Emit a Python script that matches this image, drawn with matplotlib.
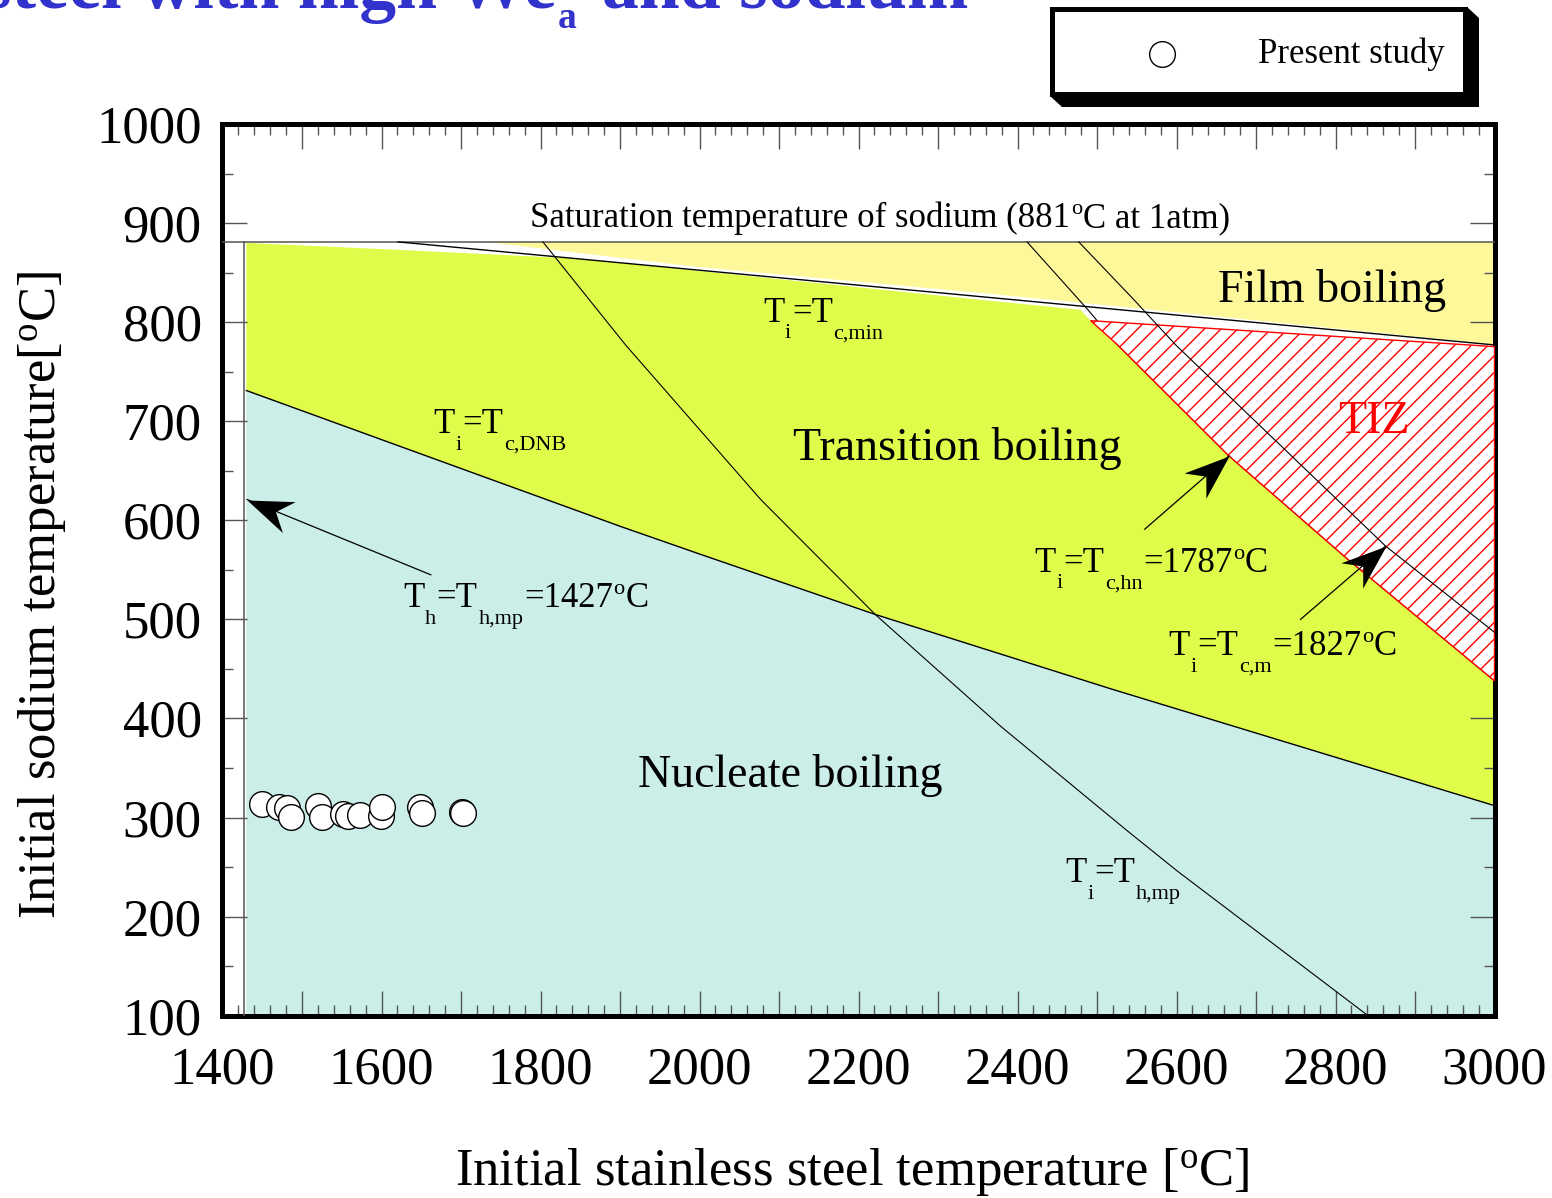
import numpy as np
import matplotlib
matplotlib.use('Agg')
import matplotlib.pyplot as plt
from matplotlib.patches import Polygon
from matplotlib.lines import Line2D
from matplotlib.markers import MarkerStyle
from matplotlib.path import Path
from matplotlib.ticker import MultipleLocator, FuncFormatter
from matplotlib.transforms import offset_copy, Affine2D

plt.rcParams['font.family'] = ['Liberation Serif', 'DejaVu Serif']
plt.rcParams['mathtext.fontset'] = 'custom'
plt.rcParams['mathtext.rm'] = 'Liberation Serif'
plt.rcParams['mathtext.it'] = 'Liberation Serif:italic'
plt.rcParams['mathtext.bf'] = 'Liberation Serif:bold'
plt.rcParams['hatch.linewidth'] = 1.0

# boiling map boundaries: (initial steel temperature, initial sodium temperature) in degC
T_SAT = 881
T_H_MP = 1427
T_C_HN = 1787
T_C_M = 1827

dnb_x = [1430, 1900, 2000, 2221, 2517, 3000]
dnb_y = [731, 594, 566, 505, 430, 312]
cmin_x = [1621, 3000]
cmin_y = [881, 777]
hmp_x = [1803, 1907, 2077, 2221, 2379, 2536, 2601, 2841]
hmp_y = [881, 777, 621, 505, 392, 288, 246, 100]
chn_x = [2412, 2488, 2526, 2666, 2815, 3000]
chn_y = [881, 813, 777, 665, 561, 438]
cm_x = [2477, 2546, 2599, 2863, 3000]
cm_y = [881, 823, 777, 574, 487]

# edges of the shaded regions
film_x = [1730, 2000, 2353, 2525, 3000]
film_y = [881, 855.5, 829.5, 816, 777.5]
trans_top_x = [1430, 1621, 1850, 2353, 2479, 2492]
trans_top_y = [880, 873, 864, 822.6, 812.5, 801.5]
tiz_top_x = [2492, 3000]
tiz_top_y = [801.5, 775.3]

# present study
study_x = [1450, 1471, 1481, 1486, 1520, 1525, 1551, 1558, 1573,
           1599, 1600, 1649, 1651, 1701, 1703]
study_y = [314, 311, 310, 301, 312, 301, 304, 302, 303,
           302, 311, 311, 305, 306, 305]

C_NUC = '#cbeee9'
C_TRANS = '#e0fb4a'
C_FILM = '#fdf99b'
C_TITLE = '#3232cc'

W, H = 1552, 1198
fig = plt.figure(figsize=(W / 100, H / 100), dpi=100)
ax = fig.add_axes([222.5 / W, 1 - 1015.7 / H, 1272 / W, 891.7 / H])
ax.set_xlim(1400, 3000)
ax.set_ylim(100, 1000)


def px(x, y):
    return x / W, 1 - y / H


# regions
nuc = [(1430, 100), (3000, 100)] + list(zip(dnb_x, dnb_y))[::-1]
ax.add_patch(Polygon(nuc, closed=True, facecolor=C_NUC, edgecolor='none', zorder=1))

trans = (list(zip(trans_top_x, trans_top_y)) + list(zip(chn_x[2:], chn_y[2:]))
         + list(zip(dnb_x, dnb_y))[::-1])
ax.add_patch(Polygon(trans, closed=True, facecolor=C_TRANS, edgecolor='none', zorder=1))

film = [(film_x[0], T_SAT), (3000, T_SAT)] + list(zip(film_x, film_y))[::-1]
ax.add_patch(Polygon(film, closed=True, facecolor=C_FILM, edgecolor='none', zorder=1))

# boundary lines
ax.plot([1400, 3000], [T_SAT, T_SAT], color='#555555', lw=1.1, zorder=3)
ax.plot([T_H_MP, T_H_MP], [100, T_SAT], color='#555555', lw=1.1, zorder=3)
ax.plot(dnb_x, dnb_y, color='black', lw=1.0, zorder=3)
ax.plot(cmin_x, cmin_y, color='black', lw=1.0, zorder=3)
ax.plot(hmp_x, hmp_y, color='black', lw=0.8, zorder=3)
ax.plot(chn_x, chn_y, color='black', lw=0.8, zorder=3)

tiz = list(zip(tiz_top_x, tiz_top_y)) + list(zip(chn_x[2:], chn_y[2:]))[::-1]
ax.add_patch(Polygon(tiz, closed=True, facecolor='white', edgecolor='red',
                     hatch='//', lw=1.0, zorder=3.5))
ax.plot(cm_x, cm_y, color='black', lw=0.8, zorder=3.6)

# measured points
ax.plot(study_x, study_y, 'o', ms=18.5, mfc='white', mec='black', mew=1.0,
        ls='none', zorder=6)

# axes styling
for sp in ax.spines.values():
    sp.set_linewidth(3.6)
ax.xaxis.set_major_locator(MultipleLocator(100))
ax.xaxis.set_minor_locator(MultipleLocator(20))
ax.yaxis.set_major_locator(MultipleLocator(100))
ax.yaxis.set_minor_locator(MultipleLocator(50))
ax.xaxis.set_major_formatter(FuncFormatter(lambda v, p: f'{v:.0f}' if round(v) % 200 == 0 else ''))
ax.tick_params(which='both', direction='in', top=True, right=True,
               color='#555555', width=1.0, labelsize=38)
ax.tick_params(which='major', length=18)
ax.tick_params(which='minor', length=8)
ax.tick_params(axis='x', pad=22)
ax.tick_params(axis='y', pad=15)

fig.text(*px(852, 1172), 'Initial stainless steel temperature [$^{\\mathrm{o}}$C]',
         fontsize=38, ha='center', va='center')
fig.text(*px(42, 595), 'Initial sodium temperature[$^{\\mathrm{o}}$C]',
         fontsize=38, ha='center', va='center', rotation=90)

renderer = fig.canvas.get_renderer()


def rich_text(x, y, runs, size, color='black'):
    """Draw text with subscripts/superscripts laid out run by run."""
    dx = 0.0
    for s, kind in runs:
        if kind == 'sub':
            fs, dy = size * 0.64, -size * 0.48
        elif kind == 'sup':
            fs, dy = size * 0.64, size * 0.38
        else:
            fs, dy = size, 0.0
        tr = offset_copy(ax.transData, fig=fig, x=dx, y=dy, units='points')
        t = ax.text(x, y, s, fontsize=fs, color=color, transform=tr,
                    ha='left', va='baseline', zorder=7)
        dx += t.get_window_extent(renderer).width * 72 / fig.dpi + size * 0.02


rich_text(1787, 896, [(f'Saturation temperature of sodium ({T_SAT}', ''), ('o', 'sup'),
                      ('C at 1atm)', '')], 25)
rich_text(2080, 800.5, [('T', ''), ('i', 'sub'), ('=T', ''), ('c,min', 'sub')], 25)
rich_text(1665, 688, [('T', ''), ('i', 'sub'), ('=T', ''), ('c,DNB', 'sub')], 25)
rich_text(1627, 512, [('T', ''), ('h', 'sub'), ('=T', ''), ('h,mp', 'sub'),
                      (f'={T_H_MP}', ''), ('o', 'sup'), ('C', '')], 25)
rich_text(2421, 548, [('T', ''), ('i', 'sub'), ('=T', ''), ('c,hn', 'sub'),
                      (f'={T_C_HN}', ''), ('o', 'sup'), ('C', '')], 25)
rich_text(2590, 464, [('T', ''), ('i', 'sub'), ('=T', ''), ('c,m', 'sub'),
                      (f'={T_C_M}', ''), ('o', 'sup'), ('C', '')], 25)
rich_text(2460, 235, [('T', ''), ('i', 'sub'), ('=T', ''), ('h,mp', 'sub')], 25)

ax.text(2652, 820, 'Film boiling', fontsize=33, va='baseline', zorder=7)
ax.text(2118, 661, 'Transition boiling', fontsize=33, va='baseline', zorder=7)
ax.text(1923, 331, 'Nucleate boiling', fontsize=33, va='baseline', zorder=7)
ax.text(2803, 688, 'TIZ', fontsize=33, va='baseline', color='red', zorder=7)

# arrows with notched heads
head = Path([(0, 0), (-1, 0.37), (-0.68, 0), (-1, -0.37), (0, 0)],
            [Path.MOVETO, Path.LINETO, Path.LINETO, Path.LINETO, Path.CLOSEPOLY])
arrows = [((1662, 545), (1431, 621)),
          ((2560, 591), (2666, 665)),
          ((2756, 500), (2863, 574))]
for tail, tip in arrows:
    p0 = ax.transData.transform(tail)
    p1 = ax.transData.transform(tip)
    ang = np.degrees(np.arctan2(p1[1] - p0[1], p1[0] - p0[0]))
    ax.plot([tail[0], tip[0]], [tail[1], tip[1]], color='black', lw=0.9, zorder=8)
    ax.plot([tip[0]], [tip[1]], ls='none', ms=65, color='black', mew=0,
            marker=MarkerStyle(head, transform=Affine2D().rotate_deg(ang)), zorder=8)

# legend box with drop shadow
shadow = [px(1050, 96), px(1062, 107), px(1479, 107), px(1479, 18), px(1467, 7)]
fig.add_artist(Polygon(shadow, closed=True, facecolor='black', edgecolor='none',
                       transform=fig.transFigure))
box = [px(1052, 9), px(1465, 9), px(1465, 94), px(1052, 94)]
fig.add_artist(Polygon(box, closed=True, facecolor='white', edgecolor='black', lw=3.6,
                       transform=fig.transFigure))
fig.add_artist(Line2D([px(1162, 54)[0]], [px(1162, 54)[1]], marker='o', ms=18.5,
                      mfc='white', mec='black', mew=1.0, transform=fig.transFigure))
fig.text(*px(1258, 54), 'Present study', fontsize=25, ha='left', va='center')

# heading, only its lower part falls inside the figure
fig.text(*px(556, 8), 'steel with high We', fontsize=53, weight='bold',
         color=C_TITLE, ha='right', va='baseline')
fig.text(*px(558, 28), 'a', fontsize=27, weight='bold', color=C_TITLE,
         ha='left', va='baseline')
fig.text(*px(968, 8), 'and sodium', fontsize=53, weight='bold',
         color=C_TITLE, ha='right', va='baseline')

fig.savefig('out.png', dpi=100)
